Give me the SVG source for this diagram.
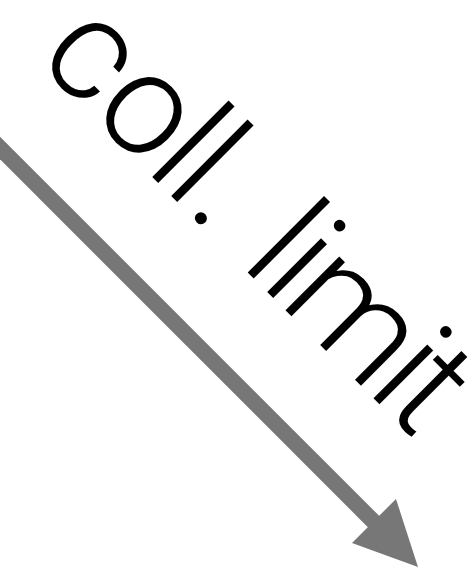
<svg xmlns="http://www.w3.org/2000/svg" width="473" height="572" viewBox="0 0 473 572">
  <style>
    .arrow-line { stroke: #777777; stroke-width: 16; fill: none; }
    .arrow-head { fill: #777777; stroke: none; }
    .label { font-family: Roboto, "Helvetica Neue", Lato, "Liberation Sans", sans-serif; font-weight: 300; font-size: 144px; fill: #000000; text-anchor: middle; }
  </style>
  <rect width="473" height="572" fill="#ffffff"/>
  <g id="connectors">
    <line class="arrow-line" x1="-20" y1="128" x2="376" y2="524"/>
    <polygon class="arrow-head" points="396,499 352,543 418,567"/>
  </g>
  <g id="label-coll-limit" transform="translate(-12.35,12.35) rotate(45)">
    <text class="label" x="104 183 236.9 263.8 297.4 330 371.9 399.5 474.5 550 582" y="0">coll. limit</text>
  </g>
</svg>
